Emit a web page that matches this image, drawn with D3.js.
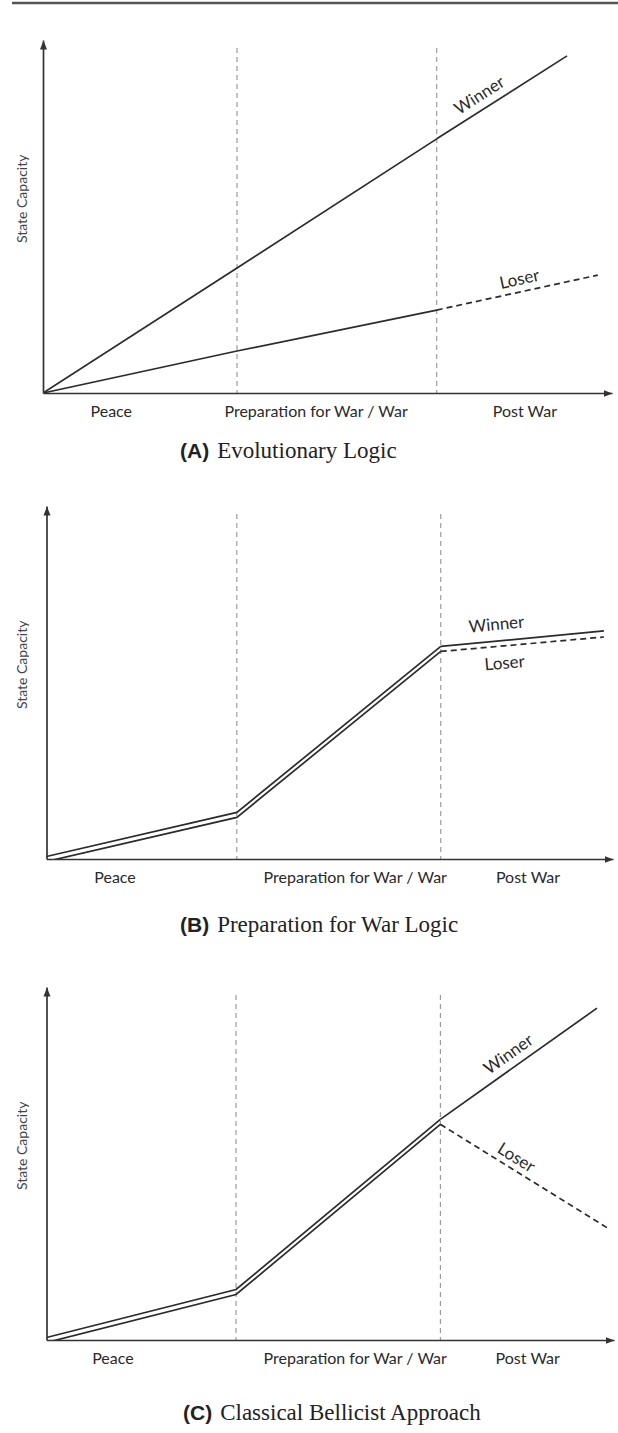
<!DOCTYPE html>
<meta charset="utf-8">
<head>
<style>
  body { margin: 0; background: #fff; }
  svg { display: block; background: #fff; }
  .phase, .series-lbl, .ylbl { font-family: Lato, 'Open Sans', sans-serif; fill: #2a2a2a; }
  .phase { font-size: 16px; }
  .series-lbl { font-size: 17px; }
  .ylbl { font-size: 14px; fill: #444; }
  .axis path { stroke: #333; stroke-width: 1.7px; }
  .divider { stroke: #888; stroke-width: 1px; stroke-dasharray: 5,4; }
  .cap-id { font-family: 'Liberation Sans', Arial, sans-serif; font-weight: bold; font-size: 21px; fill: #222; }
  .cap-txt { font-family: 'Liberation Serif', 'Times New Roman', serif; font-size: 23px; fill: #222; }
</style>
</head>
<body>
<svg id="chart" width="618" height="1433"></svg>

<script src="https://cdn.jsdelivr.net/npm/d3@7"></script>
<script>

// ---- data (x and y in % of each panel's axis length) ----
var phaseLabels = ["Peace", "Preparation for War / War", "Post War"];
var panelIds = ["(A)", "(B)", "(C)"];
var panelTitles = ["Evolutionary Logic", "Preparation for War Logic", "Classical Bellicist Approach"];
var seriesNames = ["Winner", "Loser"];

// end of peace, end of war
var phaseEndsA = [34.1, 69.2];
var phaseEndsB = [33.6, 69.6];
var phaseEndsC = [33.4, 69.4];

// where the phase labels sit along the x axis
var phaseLabelXA = [12.0, 48.0, 84.7];
var phaseLabelXB = [12.1, 54.5, 85.0];
var phaseLabelXC = [11.7, 54.4, 84.8];

var winnerA = [[0, 0], [34.1, 35.4], [69.2, 72.0], [92.1, 95.5]];
var loserA  = [[0, 0], [34.1, 11.9], [69.2, 23.5], [97.5, 33.4]];

var winnerB = [[0, 0], [33.6, 12.5], [69.6, 59.5], [98.4, 63.9]];
var loserB  = [[0, 0], [33.6, 12.5], [69.6, 59.5], [98.4, 63.6]];

var winnerC = [[0, 0], [33.4, 13.6], [69.4, 61.8], [97.0, 93.3]];
var loserC  = [[0, 0], [33.4, 13.6], [69.4, 61.8], [98.9, 32.4]];

// x position of the Winner / Loser labels along their line
var winnerLabelX = [78.0, 79.7, 82.8];
var loserLabelX  = [84.2, 80.6, 81.7];

// ---- layout ----
var layout = [
  { left: 43,   right: 612, bottom: 393,  top: 40,  gap: 0,   wOff: -14, lOff: -13, titleX: 180, titleY: 458 },
  { left: 46.5, right: 613, bottom: 859,  top: 506, gap: 2.5, wOff: -17, lOff: 17,  titleX: 180, titleY: 932 },
  { left: 46.5, right: 614, bottom: 1340, top: 987, gap: 2.5, wOff: -14, lOff: -12, titleX: 183, titleY: 1420 }
];

var panels = [
  { ends: phaseEndsA, labX: phaseLabelXA, winner: winnerA, loser: loserA },
  { ends: phaseEndsB, labX: phaseLabelXB, winner: winnerB, loser: loserB },
  { ends: phaseEndsC, labX: phaseLabelXC, winner: winnerC, loser: loserC }
];

var svg = d3.select("#chart");

// top rule
svg.append("line")
    .attr("x1", 12).attr("x2", 618)
    .attr("y1", 3).attr("y2", 3)
    .style("stroke", "#555")
    .style("stroke-width", 2.5);

var defs = svg.append("defs");
defs.append("marker")
    .attr("id", "arrow")
    .attr("viewBox", "0 -4 9 8")
    .attr("refX", 9).attr("refY", 0)
    .attr("markerWidth", 9).attr("markerHeight", 8)
    .attr("markerUnits", "userSpaceOnUse")
    .attr("orient", "auto")
  .append("path")
    .attr("d", "M0,-3.5L9,0L0,3.5Z")
    .style("fill", "#333");

var line = function(x, y) {
  return d3.line().x(function(d) { return x(d[0]); }).y(function(d) { return y(d[1]); });
};

// find point + angle on a polyline at data x
function onLine(pts, xu, x, y) {
  var i = 0;
  while (i < pts.length - 2 && pts[i + 1][0] < xu) i++;
  var p0 = pts[i], p1 = pts[i + 1];
  var t = (xu - p0[0]) / (p1[0] - p0[0]);
  var yu = p0[1] + t * (p1[1] - p0[1]);
  var ang = Math.atan2(y(p1[1]) - y(p0[1]), x(p1[0]) - x(p0[0])) * 180 / Math.PI;
  return { px: x(xu), py: y(yu), ang: ang };
}

panels.forEach(function(p, k) {
  var L = layout[k];
  var x = d3.scaleLinear().domain([0, 100]).range([L.left, L.right]);
  var y = d3.scaleLinear().domain([0, 100]).range([L.bottom, L.top]);
  var g = svg.append("g");

  defs.append("clipPath").attr("id", "clip" + k)
    .append("rect")
      .attr("x", L.left).attr("y", L.top)
      .attr("width", L.right - L.left).attr("height", L.bottom - L.top);

  // dashed phase dividers
  g.selectAll(".divider")
      .data(p.ends)
    .enter().append("line")
      .attr("class", "divider")
      .attr("x1", function(d) { return x(d); })
      .attr("x2", function(d) { return x(d); })
      .attr("y1", L.top + 8)
      .attr("y2", L.bottom);

  // series: before the war ends both solid, after that loser dashed
  var warIdx = 2;
  var series = [
    { pts: p.winner, dy: -L.gap, dash: null },
    { pts: p.loser,  dy:  L.gap, dash: "6,4" }
  ];
  var lg = g.append("g").attr("clip-path", "url(#clip" + k + ")");
  series.forEach(function(s) {
    var sg = lg.append("g").attr("transform", "translate(0," + s.dy + ")");
    sg.append("path")
        .attr("d", line(x, y)(s.pts.slice(0, warIdx + 1)))
        .style("fill", "none").style("stroke", "#2b2b2b").style("stroke-width", 1.7);
    sg.append("path")
        .attr("d", line(x, y)(s.pts.slice(warIdx)))
        .style("fill", "none").style("stroke", "#2b2b2b").style("stroke-width", 1.7)
        .style("stroke-dasharray", s.dash);
  });

  // axes
  g.append("g")
      .attr("class", "axis")
      .attr("transform", "translate(0," + L.bottom + ")")
      .call(d3.axisBottom(x).ticks(0).tickSizeOuter(0))
    .select(".domain")
      .attr("marker-end", "url(#arrow)");
  g.append("g")
      .attr("class", "axis")
      .attr("transform", "translate(" + L.left + ",0)")
      .call(d3.axisLeft(y).ticks(0).tickSizeOuter(0))
    .select(".domain")
      .attr("marker-end", "url(#arrow)");

  // phase labels
  g.selectAll(".phase")
      .data(phaseLabels)
    .enter().append("text")
      .attr("class", "phase")
      .attr("x", function(d, i) { return x(p.labX[i]); })
      .attr("y", L.bottom + 24)
      .style("text-anchor", "middle")
      .text(function(d) { return d; });

  // y label
  g.append("text")
      .attr("class", "ylbl")
      .attr("transform", "translate(22," + y(55) + ") rotate(-90)")
      .style("text-anchor", "middle")
      .attr("dy", "0.35em")
      .text("State Capacity");

  // Winner / Loser labels
  [[p.winner, winnerLabelX[k], -L.gap, L.wOff], [p.loser, loserLabelX[k], L.gap, L.lOff]].forEach(function(a, i) {
    var o = onLine(a[0], a[1], x, y);
    g.append("text")
        .attr("class", "series-lbl")
        .attr("transform", "translate(" + o.px + "," + (o.py + a[2]) + ") rotate(" + o.ang + ")")
        .attr("y", a[3])
        .attr("dy", "0.35em")
        .style("text-anchor", "middle")
        .text(seriesNames[i]);
  });

  // caption
  var cap = svg.append("text")
      .attr("x", L.titleX)
      .attr("y", L.titleY);
  cap.append("tspan").attr("class", "cap-id").text(panelIds[k]);
  cap.append("tspan").attr("class", "cap-txt").attr("dx", 8).text(panelTitles[k]);
});

</script>
</body>
